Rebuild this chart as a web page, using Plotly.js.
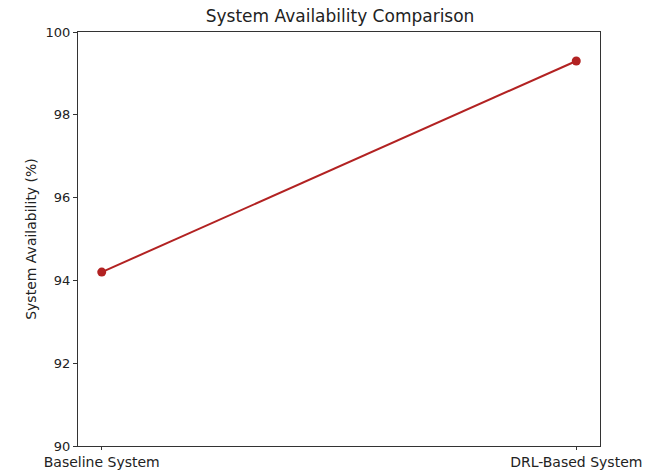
<!DOCTYPE html>
<html>
<head>
<meta charset="utf-8">
<script src="https://cdn.plot.ly/plotly-3.0.1.min.js"></script>
<style>html,body{margin:0;padding:0;background:#fff;}#chart{width:654px;height:470px;}</style>
</head>
<body>
<div id="chart"></div>
<script>
const categories = ["Baseline System", "DRL-Based System"];
const availability = [94.2, 99.3];
const yTicks = [90, 92, 94, 96, 98, 100];

const xIdx = categories.map((c, i) => i);
const font = "DejaVu Sans, sans-serif";

Plotly.newPlot("chart", [{
  x: xIdx,
  y: availability,
  type: "scatter",
  mode: "lines+markers",
  line: {color: "#b22222", width: 2},
  marker: {color: "#b22222", size: 9},
  hoverinfo: "skip"
}], {
  width: 654, height: 470,
  margin: {l: 78, r: 54, t: 32, b: 24},
  paper_bgcolor: "#ffffff",
  plot_bgcolor: "#ffffff",
  showlegend: false,
  font: {family: font, size: 13, color: "#222"},
  title: {text: "System Availability Comparison", font: {family: font, size: 17, color: "#222"}, x: 0.52, xanchor: "center", y: 0.978, yanchor: "top"},
  xaxis: {
    range: [-0.05, 1.05],
    tickvals: xIdx, ticktext: categories,
    showgrid: false, zeroline: false,
    showline: true, mirror: true, linecolor: "#333", linewidth: 1,
    ticks: "outside", ticklen: 3, tickcolor: "#333",
    tickfont: {family: font, size: 14, color: "#222"}
  },
  yaxis: {
    range: [90, 100],
    tickvals: yTicks,
    showgrid: false, zeroline: false,
    showline: true, mirror: true, linecolor: "#333", linewidth: 1,
    ticks: "outside", ticklen: 4, tickcolor: "#333",
    tickfont: {family: font, size: 13, color: "#222"},
    title: {text: "System Availability (%)", font: {family: font, size: 14, color: "#222"}, standoff: 5}
  }
}, {staticPlot: true});
</script>
</body>
</html>
